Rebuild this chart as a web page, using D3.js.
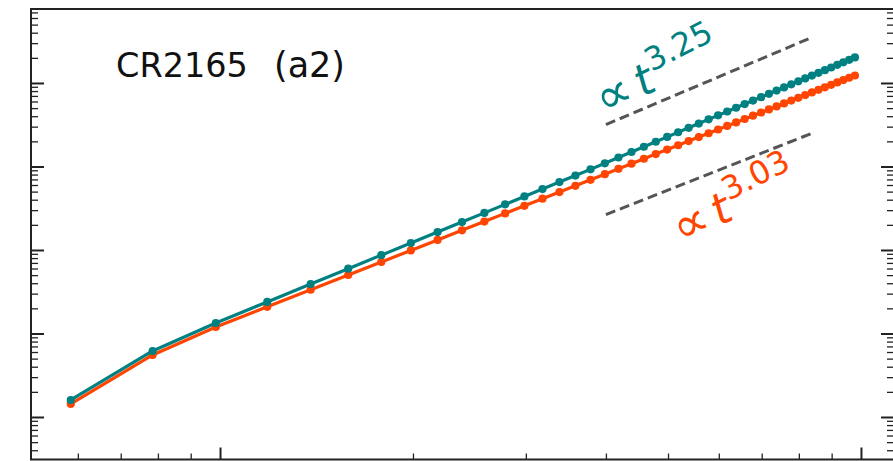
<!DOCTYPE html>
<html>
<head>
<meta charset="utf-8">
<script src="https://cdn.jsdelivr.net/npm/d3@7"></script>
<style>
  html, body { margin: 0; padding: 0; background: #fff; }
  svg { display: block; }
  text { font-family: "DejaVu Sans", sans-serif; }
</style>
</head>
<body>
<svg id="chart" width="893" height="461"></svg>
<script>
// Sample times (hours)
const times = [5.85, 7.85, 9.85, 11.85, 13.85, 15.85, 17.85, 19.85, 21.85, 23.85,
  25.85, 27.85, 29.85, 31.85, 33.85, 35.85, 37.85, 39.85, 41.85, 43.85,
  45.85, 47.85, 49.85, 51.85, 53.85, 55.85, 57.85, 59.85, 61.85, 63.85,
  65.85, 67.85, 69.85, 71.85, 73.85, 75.85, 77.85, 79.85, 81.85, 83.85,
  85.85, 87.85, 89.85, 91.85, 93.85, 95.85, 97.85];

// Teal series
const tealValues = [1.598, 6.171, 13.36, 23.89, 39.04, 59.69, 86.78, 121.2, 163.9, 215.9,
  278.2, 351.8, 437.5, 536.6, 650.0, 778.7, 923.8, 1092, 1281, 1490,
  1722, 1979, 2261, 2569, 2905, 3269, 3666, 4095, 4556, 5052,
  5586, 6157, 6767, 7418, 8108, 8845, 9625, 10452, 11326, 12249,
  13222, 14253, 15333, 16474, 17671, 18920, 20237];

// Orange series
const orangeValues = [1.432, 5.527, 11.96, 20.88, 33.41, 50.17, 71.78, 98.86, 132.0, 171.9,
  219.1, 274.4, 338.1, 411.1, 494.0, 587.3, 691.7, 808.7, 937.7, 1080,
  1237, 1407, 1594, 1795, 2013, 2248, 2501, 2772, 3063, 3373,
  3703, 4054, 4428, 4825, 5243, 5683, 6151, 6642, 7159, 7702,
  8272, 8868, 9495, 10151, 10834, 11551, 12296];

// Power-law guides: value = amplitude * t^exponent over guideRange
const guideExponents = [3.25, 3.03];
const guideAmplitudes = [0.01972, 0.003710];
const guideRange = [40, 84];
const guideLabels = ["3.25", "3.03"];

const panelName = "CR2165";
const panelTag = "(a2)";

const xMajor = [10, 100];
const xMinor = [6, 7, 8, 9, 20, 30, 40, 50, 60, 70, 80, 90];
const yMajor = [1, 10, 100, 1000, 10000];
const yMinor = [];
[0.1, 1, 10, 100, 1000, 10000].forEach(d => {
  for (let m = 2; m <= 9; m++) yMinor.push(d * m);
});

const TEAL = "#008080";
const ORANGE = "#ff4500";
const INK = "#222";

const svg = d3.select("#chart");
const L = 31, T = 9, R = 894, B = 459.5;

const x = d3.scaleLog().domain([5.071, 112.6]).range([L, R]);
const y = d3.scaleLog().domain([0.3097, 76900]).range([B, T]);

const yMinorIn = yMinor.filter(v => v > y.domain()[0] && v < y.domain()[1]);

function styleAxis(g, w) {
  g.select(".domain").remove();
  g.selectAll("text").remove();
  g.selectAll(".tick line").attr("stroke", INK).attr("stroke-width", w);
}

// bottom ticks (inward)
svg.append("g").attr("transform", `translate(0,${B})`)
  .call(d3.axisBottom(x).tickValues(xMajor).tickSize(-12).tickFormat(""))
  .call(g => styleAxis(g, 2));
svg.append("g").attr("transform", `translate(0,${B})`)
  .call(d3.axisBottom(x).tickValues(xMinor).tickSize(-6).tickFormat(""))
  .call(g => styleAxis(g, 1.3));

// left ticks
svg.append("g").attr("transform", `translate(${L},0)`)
  .call(d3.axisLeft(y).tickValues(yMajor).tickSize(-13).tickFormat(""))
  .call(g => styleAxis(g, 2));
svg.append("g").attr("transform", `translate(${L},0)`)
  .call(d3.axisLeft(y).tickValues(yMinorIn).tickSize(-7).tickFormat(""))
  .call(g => styleAxis(g, 1.3));

// right ticks
svg.append("g").attr("transform", `translate(${R},0)`)
  .call(d3.axisRight(y).tickValues(yMajor).tickSize(-13).tickFormat(""))
  .call(g => styleAxis(g, 2));
svg.append("g").attr("transform", `translate(${R},0)`)
  .call(d3.axisRight(y).tickValues(yMinorIn).tickSize(-7).tickFormat(""))
  .call(g => styleAxis(g, 1.3));

// frame
svg.append("rect")
  .attr("x", L).attr("y", T).attr("width", R - L).attr("height", B - T)
  .attr("fill", "none").attr("stroke", INK).attr("stroke-width", 2);

// power-law guides
guideExponents.forEach((p, i) => {
  const pts = guideRange.map(t => [t, guideAmplitudes[i] * Math.pow(t, p)]);
  svg.append("path")
    .attr("d", d3.line().x(d => x(d[0])).y(d => y(d[1]))(pts))
    .attr("fill", "none").attr("stroke", "#555")
    .attr("stroke-width", 3).attr("stroke-dasharray", "10,5");
});

// series
const line = d3.line().x(d => x(d[0])).y(d => y(d[1]));
[[orangeValues, ORANGE], [tealValues, TEAL]].forEach(([vals, col]) => {
  const pts = times.map((t, i) => [t, vals[i]]);
  const g = svg.append("g");
  g.append("path").attr("d", line(pts))
    .attr("fill", "none").attr("stroke", col).attr("stroke-width", 3.2)
    .attr("stroke-linejoin", "round");
  g.selectAll("circle").data(pts).join("circle")
    .attr("cx", d => x(d[0])).attr("cy", d => y(d[1]))
    .attr("r", 4.1).attr("fill", col);
});

// panel title
svg.append("text").attr("x", 116).attr("y", 77)
  .attr("font-size", 33.5).attr("fill", "#111").text(panelName);
svg.append("text").attr("x", 274).attr("y", 77)
  .attr("font-size", 35).attr("fill", "#111").text(panelTag);

// guide labels
function powerLabel(ax, ay, angle, color, expo) {
  const t = svg.append("text")
    .attr("transform", `translate(${ax},${ay}) rotate(${angle})`)
    .attr("fill", color).attr("font-size", 44);
  t.append("tspan").attr("font-size", 50).text("\u221D");
  t.append("tspan").attr("dx", 7).attr("font-style", "italic").text("t");
  t.append("tspan").attr("font-size", 32).attr("dy", -19).attr("dx", 2).text(expo);
}
powerLabel(605, 117, -27, TEAL, guideLabels[0]);
powerLabel(682, 246, -27, ORANGE, guideLabels[1]);
</script>
</body>
</html>
